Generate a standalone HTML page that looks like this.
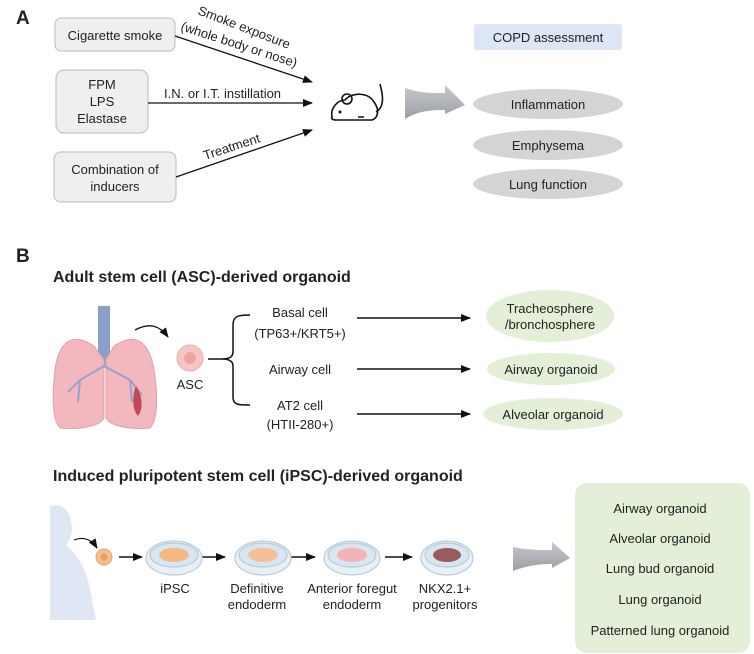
<!DOCTYPE html>
<html><head><meta charset="utf-8"><style>
html,body{margin:0;padding:0;background:#fff}
svg{display:block}
text{font-family:"Liberation Sans",Arial,sans-serif;fill:#222}
</style></head><body>
<svg width="754" height="654" viewBox="0 0 754 654" xmlns="http://www.w3.org/2000/svg">
<defs>
<marker id="ah" markerWidth="10" markerHeight="8" refX="9" refY="4" orient="auto" markerUnits="userSpaceOnUse"><path d="M0,0 L10,4 L0,8 z" fill="#111"/></marker>
<linearGradient id="ga" x1="0" y1="0" x2="0" y2="1"><stop offset="0" stop-color="#c8c8c8"/><stop offset="1" stop-color="#9aa0a8"/></linearGradient>
</defs>
<!-- Panel A -->
<text x="16" y="24" font-size="19" font-weight="bold" fill="#111">A</text>
<rect x="55" y="18" width="120" height="33" rx="6" fill="#efefef" stroke="#bbb"/>
<text x="115" y="40" font-size="13" text-anchor="middle">Cigarette smoke</text>
<rect x="56" y="70" width="92" height="63" rx="8" fill="#efefef" stroke="#bbb"/>
<text x="102" y="89" font-size="13" text-anchor="middle">FPM</text>
<text x="102" y="106" font-size="13" text-anchor="middle">LPS</text>
<text x="102" y="123" font-size="13" text-anchor="middle">Elastase</text>
<rect x="54" y="152" width="122" height="50" rx="7" fill="#efefef" stroke="#bbb"/>
<text x="115" y="174" font-size="13" text-anchor="middle">Combination of</text>
<text x="115" y="191" font-size="13" text-anchor="middle">inducers</text>
<line x1="175" y1="36" x2="312" y2="82" stroke="#111" stroke-width="1.3" marker-end="url(#ah)"/>
<line x1="148" y1="103" x2="312" y2="103" stroke="#111" stroke-width="1.3" marker-end="url(#ah)"/>
<line x1="176" y1="177" x2="312" y2="130" stroke="#111" stroke-width="1.3" marker-end="url(#ah)"/>
<text font-size="13" transform="translate(197,14) rotate(21)">Smoke exposure</text>
<text font-size="13" transform="translate(180,30) rotate(18)">(whole body or nose)</text>
<text x="164" y="98" font-size="13">I.N. or I.T. instillation</text>
<text font-size="13" transform="translate(205,160) rotate(-18)">Treatment</text>
<!-- mouse -->
<g fill="none" stroke="#111" stroke-width="1.6">
<path d="M332,117 C330,108 338,100 345,100 C352,92 368,92 374,102 C380,110 378,118 372,120 L336,120 C332,120 331,118 332,117 z"/>
<circle cx="347" cy="99" r="5"/>
<path d="M376,112 C386,106 382,92 380,84"/>
</g>
<circle cx="340" cy="112" r="1.5" fill="#111"/>
<line x1="358" y1="117" x2="364" y2="117" stroke="#111" stroke-width="1.5"/>
<!-- grey arrow -->
<path d="M405,88 C420,93 430,93 445,93 L445,85 L465,105 L445,114 L445,110 C430,110 418,111 405,119 z" fill="url(#ga)"/>
<rect x="474" y="24" width="148" height="26" rx="3" fill="#dce6f4"/>
<text x="548" y="42" font-size="13" text-anchor="middle">COPD assessment</text>
<ellipse cx="548" cy="104" rx="75" ry="15" fill="#d4d4d4"/>
<text x="548" y="109" font-size="13" text-anchor="middle">Inflammation</text>
<ellipse cx="548" cy="145" rx="75" ry="15" fill="#d4d4d4"/>
<text x="548" y="150" font-size="13" text-anchor="middle">Emphysema</text>
<ellipse cx="548" cy="184" rx="75" ry="15" fill="#d4d4d4"/>
<text x="548" y="189" font-size="13" text-anchor="middle">Lung function</text>
<!-- Panel B -->
<text x="16" y="262" font-size="19" font-weight="bold" fill="#111">B</text>
<text x="53" y="282" font-size="16" font-weight="bold" fill="#111">Adult stem cell (ASC)-derived organoid</text>
<!-- lungs -->
<rect x="98" y="306" width="12" height="60" fill="#8aa0c8"/>
<path d="M94,346 C70,330 58,345 55,370 C52,395 52,420 60,428 C80,430 100,426 104,418 L104,360 z" fill="#f2b8bd" stroke="#e0a0a6"/>
<path d="M114,346 C138,330 150,345 154,370 C158,395 158,420 150,428 C130,430 110,426 106,418 L106,360 z" fill="#f2b8bd" stroke="#e0a0a6"/>
<g stroke="#9aa0cc" stroke-width="2" fill="none"><path d="M104,366 L80,380 L68,392 M80,380 L78,402 M104,366 L130,380 L142,395 M130,380 L132,402"/></g>
<path d="M136,386 C132,395 132,410 138,416 C144,408 142,395 136,386z" fill="#c04a5a"/>
<path d="M135,330 C150,322 160,326 168,337" fill="none" stroke="#111" stroke-width="1.3" marker-end="url(#ah)"/>
<circle cx="190" cy="358" r="13" fill="#f6c6c6" stroke="#eeaaaa"/>
<circle cx="190" cy="358" r="6" fill="#eea4a4"/>
<text x="190" y="389" font-size="13" text-anchor="middle">ASC</text>
<path d="M208,359 L222,359 M250,315 C238,315 233,316 233,325 L233,352 C233,357 229,359 222,359 C229,359 233,361 233,366 L233,397 C233,405 238,405 250,405" fill="none" stroke="#111" stroke-width="1.5"/>
<text x="300" y="317" font-size="13" text-anchor="middle">Basal cell</text>
<text x="300" y="338" font-size="13" text-anchor="middle" fill="#777">(TP63+/KRT5+)</text>
<text x="300" y="374" font-size="13" text-anchor="middle">Airway cell</text>
<text x="300" y="410" font-size="13" text-anchor="middle">AT2 cell</text>
<text x="300" y="429" font-size="13" text-anchor="middle" fill="#777">(HTII-280+)</text>
<line x1="357" y1="318" x2="470" y2="318" stroke="#111" stroke-width="1.5" marker-end="url(#ah)"/>
<line x1="357" y1="369" x2="470" y2="369" stroke="#111" stroke-width="1.5" marker-end="url(#ah)"/>
<line x1="357" y1="414" x2="470" y2="414" stroke="#111" stroke-width="1.5" marker-end="url(#ah)"/>
<ellipse cx="550" cy="316" rx="64" ry="26" fill="#e3efd7"/>
<text x="550" y="313" font-size="13" text-anchor="middle">Tracheosphere</text>
<text x="550" y="329" font-size="13" text-anchor="middle">/bronchosphere</text>
<ellipse cx="551" cy="369" rx="64" ry="16" fill="#e3efd7"/>
<text x="551" y="374" font-size="13" text-anchor="middle">Airway organoid</text>
<ellipse cx="553" cy="414" rx="70" ry="16" fill="#e3efd7"/>
<text x="553" y="419" font-size="13" text-anchor="middle">Alveolar organoid</text>
<text x="53" y="481" font-size="16" font-weight="bold" fill="#111">Induced pluripotent stem cell (iPSC)-derived organoid</text>
<!-- body -->
<path d="M50,506 C62,503 70,510 71,522 C74,530 70,540 66,545 C78,555 88,570 92,600 L96,620 L50,620 z" fill="#dfe7f5"/>
<path d="M74,540 C84,536 92,540 97,548" fill="none" stroke="#111" stroke-width="1.2" marker-end="url(#ah)"/>
<circle cx="104" cy="557" r="8" fill="#f4c088" stroke="#e8a870"/>
<circle cx="104" cy="557" r="3.5" fill="#e89a70"/>
<g stroke="#111" stroke-width="1.5" marker-end="url(#ah)">
<line x1="119" y1="557" x2="142" y2="557"/>
<line x1="201" y1="557" x2="225" y2="557"/>
<line x1="290" y1="557" x2="315" y2="557"/>
<line x1="385" y1="557" x2="412" y2="557"/>
</g>
<g stroke="#b9cbd9" stroke-width="1.2">
<ellipse cx="174" cy="558" rx="28" ry="17" fill="#e8f0f6"/><ellipse cx="174" cy="555" rx="24" ry="12" fill="#d6e6f2"/>
<ellipse cx="263" cy="558" rx="28" ry="17" fill="#e8f0f6"/><ellipse cx="263" cy="555" rx="24" ry="12" fill="#d6e6f2"/>
<ellipse cx="352" cy="558" rx="28" ry="17" fill="#e8f0f6"/><ellipse cx="352" cy="555" rx="24" ry="12" fill="#d6e6f2"/>
<ellipse cx="447" cy="558" rx="26" ry="17" fill="#e8f0f6"/><ellipse cx="447" cy="555" rx="22" ry="12" fill="#d6e6f2"/>
</g>
<ellipse cx="174" cy="555" rx="15" ry="7" fill="#f5b880"/>
<ellipse cx="263" cy="555" rx="15" ry="7" fill="#f5c098"/>
<ellipse cx="352" cy="555" rx="15" ry="7" fill="#f3b4b8"/>
<ellipse cx="447" cy="555" rx="14" ry="7" fill="#9a5a5e"/>
<g font-size="13" text-anchor="middle">
<text x="175" y="593">iPSC</text>
<text x="257" y="593">Definitive</text><text x="257" y="609">endoderm</text>
<text x="352" y="593">Anterior foregut</text><text x="352" y="609">endoderm</text>
<text x="445" y="593">NKX2.1+</text><text x="445" y="609">progenitors</text>
</g>
<path d="M513,547 C528,550 538,550 552,550 L552,542 L570,558 L552,568 L552,564 C538,564 526,566 513,571 z" fill="url(#ga)"/>
<rect x="575" y="483" width="175" height="170" rx="12" fill="#e3efd7"/>
<g font-size="13" text-anchor="middle">
<text x="660" y="513">Airway organoid</text>
<text x="660" y="543">Alveolar organoid</text>
<text x="660" y="573">Lung bud organoid</text>
<text x="660" y="604">Lung organoid</text>
<text x="660" y="635">Patterned lung organoid</text>
</g>
</svg>
</body></html>
